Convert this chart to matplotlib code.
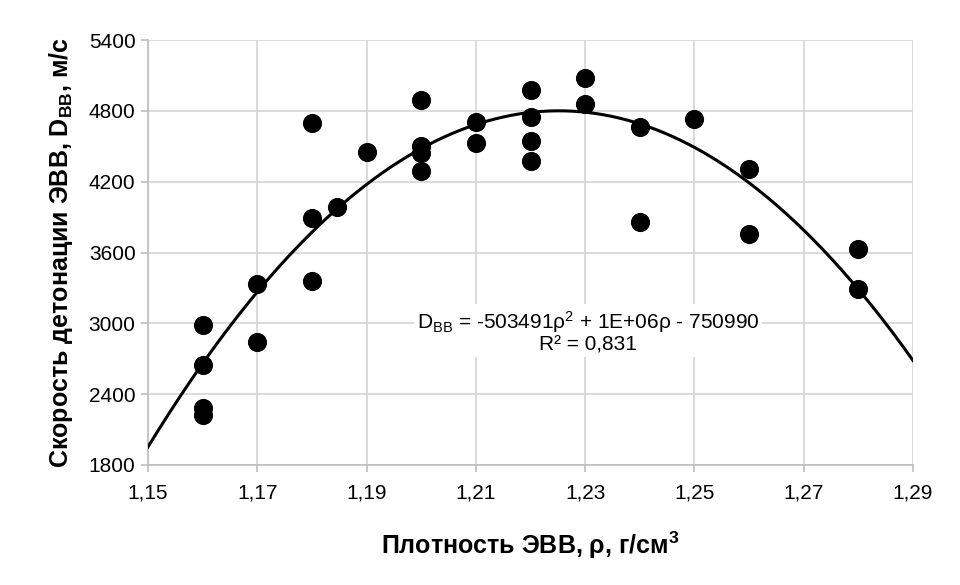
import numpy as np
import matplotlib.pyplot as plt

plt.rcParams['font.family'] = ['Liberation Sans', 'DejaVu Sans']
plt.rcParams['mathtext.fontset'] = 'custom'
plt.rcParams['mathtext.rm'] = 'Liberation Sans'
plt.rcParams['mathtext.bf'] = 'Liberation Sans:bold'
plt.rcParams['mathtext.it'] = 'Liberation Sans:italic'

# Плотность ЭВВ, г/см3 и скорость детонации, м/с
rho = [1.16, 1.16, 1.16, 1.16, 1.17, 1.17, 1.18, 1.18, 1.18, 1.1845,
       1.19, 1.20, 1.20, 1.20, 1.20, 1.21, 1.21, 1.22, 1.22, 1.22, 1.22,
       1.23, 1.23, 1.24, 1.24, 1.25, 1.26, 1.26, 1.28, 1.28]
D = [2990, 2650, 2280, 2220, 3330, 2840, 4695, 3895, 3360, 3985,
     4450, 4895, 4500, 4445, 4290, 4705, 4530, 4975, 4750, 4545, 4375,
     5075, 4855, 4665, 3855, 4735, 4305, 3760, 3630, 3295]

# коэффициенты линии тренда
coef = [-503491, 1233748, -750990]

xticks = [1.15, 1.17, 1.19, 1.21, 1.23, 1.25, 1.27, 1.29]
yticks = [1800, 2400, 3000, 3600, 4200, 4800, 5400]

fig = plt.figure(figsize=(9.6, 5.85), dpi=100)
ax = fig.add_axes([148/960, 1 - 465/585, (913-148)/960, (465-40)/585])

xs = np.linspace(1.15, 1.29, 300)
ax.plot(xs, np.polyval(coef, xs), color='black', lw=2.2, zorder=3)
ax.scatter(rho, D, s=190, color='black', zorder=4, linewidths=0)

ax.set_xlim(1.15, 1.29)
ax.set_ylim(1800, 5400)
ax.set_xticks(xticks)
ax.set_yticks(yticks)
ax.set_xticklabels([f'{t:.2f}'.replace('.', ',') for t in xticks])
ax.set_yticklabels([str(t) for t in yticks])
ax.grid(True, color='#d4d4d4', lw=1.2)
ax.set_axisbelow(True)
for s in ['top', 'right']:
    ax.spines[s].set_visible(False)
for s in ['left', 'bottom']:
    ax.spines[s].set_color('#bdbdbd')
    ax.spines[s].set_linewidth(1.2)
ax.tick_params(axis='both', labelsize=15, color='#bdbdbd', length=5, width=1.2)
ax.tick_params(axis='x', pad=8)
ax.tick_params(axis='y', pad=4)

ax.set_xlabel('Плотность ЭВВ, ρ, г/см$^\\mathbf{3}$', fontsize=18, fontweight='bold',
              labelpad=20)
ax.set_ylabel('Скорость детонации ЭВВ, D$_\\mathbf{BB}$, м/с', fontsize=18,
              fontweight='bold', labelpad=10)

ax.text(1.2305, 2930, 'D$_\\mathrm{BB}$ = -503491ρ$^\\mathrm{2}$ + 1E+06ρ - 750990\nR² = 0,831',
        ha='center', va='center', fontsize=15, linespacing=1.0,
        bbox=dict(facecolor='white', edgecolor='none', pad=2), zorder=5)

fig.savefig('out.png', dpi=100)
